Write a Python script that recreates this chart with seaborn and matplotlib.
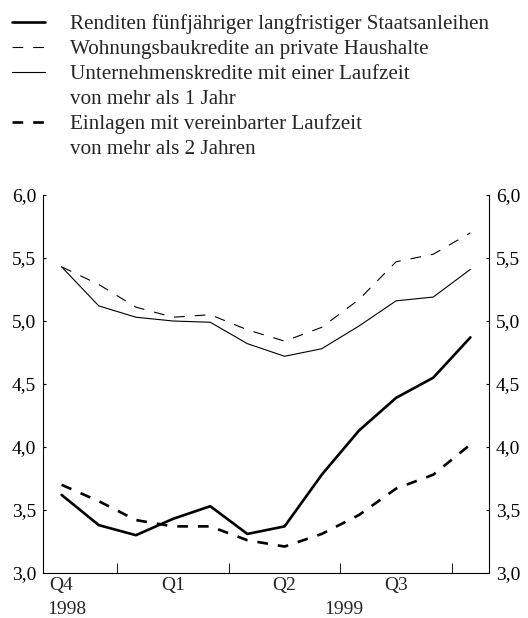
import pandas as pd
import matplotlib.pyplot as plt
import seaborn as sns
from matplotlib.lines import Line2D
from matplotlib.ticker import FuncFormatter

# monthly values, Oct 1998 - Sep 1999 (percent)
months = ["Okt 98", "Nov 98", "Dez 98", "Jan 99", "Feb 99", "Mrz 99",
          "Apr 99", "Mai 99", "Jun 99", "Jul 99", "Aug 99", "Sep 99"]
renditen = [3.62, 3.38, 3.30, 3.43, 3.53, 3.31, 3.37, 3.78, 4.13, 4.39, 4.55, 4.87]
wohnungsbau = [5.43, 5.29, 5.11, 5.03, 5.05, 4.93, 4.84, 4.95, 5.17, 5.47, 5.53, 5.70]
unternehmen = [5.43, 5.12, 5.03, 5.00, 4.99, 4.82, 4.72, 4.78, 4.96, 5.16, 5.19, 5.41]
einlagen = [3.70, 3.57, 3.42, 3.37, 3.37, 3.26, 3.21, 3.31, 3.46, 3.67, 3.78, 4.02]

quarter_pos = [0, 3, 6, 9]
quarter_labels = ["Q4", "Q1", "Q2", "Q3"]
year_pos = [0.14, 7.58]
year_labels = ["1998", "1999"]

legend_labels = [
    "Renditen fünfjähriger langfristiger Staatsanleihen",
    "Wohnungsbaukredite an private Haushalte",
    "Unternehmenskredite mit einer Laufzeit",
    "von mehr als 1 Jahr",
    "Einlagen mit vereinbarter Laufzeit",
    "von mehr als 2 Jahren",
]

sns.set_style("white")
plt.rcParams["font.family"] = ["Liberation Serif", "DejaVu Serif"]
plt.rcParams["lines.scale_dashes"] = False

df = pd.DataFrame({
    "x": range(len(months)),
    "renditen": renditen,
    "wohnungsbau": wohnungsbau,
    "unternehmen": unternehmen,
    "einlagen": einlagen,
})

dash = (0, (7.7, 7.2))
styles = {
    "renditen": dict(lw=1.9, ls="-"),
    "wohnungsbau": dict(lw=0.8, ls=dash),
    "unternehmen": dict(lw=0.8, ls="-"),
    "einlagen": dict(lw=1.9, ls=dash),
}

fig = plt.figure(figsize=(5.28, 6.18), dpi=100)
ax = fig.add_axes([43 / 528, 1 - 573 / 618, (489 - 43) / 528, (573 - 195) / 618])

for col, st in styles.items():
    sns.lineplot(data=df, x="x", y=col, ax=ax, color="black",
                 linewidth=st["lw"], linestyle=st["ls"])

ax.set_xlim(-0.5, 11.5)
ax.set_ylim(3.0, 6.0)
ax.set_xlabel("")
ax.set_ylabel("")

for s in ["left", "right", "bottom"]:
    ax.spines[s].set_visible(True)
    ax.spines[s].set_linewidth(0.8)
    ax.spines[s].set_color("black")
ax.spines["top"].set_visible(False)

# y axis on both sides, comma decimals
ax.set_yticks([3.0, 3.5, 4.0, 4.5, 5.0, 5.5, 6.0])
ax.yaxis.set_major_formatter(FuncFormatter(lambda v, _: f"{v:.1f}".replace(".", ",")))
ax.tick_params(axis="y", direction="in", left=True, right=True,
               labelleft=True, labelright=True, length=2.5, width=0.8,
               pad=5, labelsize=14, colors="black")

# quarter labels at month centres, month boundaries as minor ticks
ax.set_xticks(quarter_pos)
ax.set_xticklabels(quarter_labels)
ax.set_xticks([i + 0.5 for i in range(len(months) - 1)], minor=True)
ax.tick_params(axis="x", which="major", length=0, pad=3, labelsize=14)
ax.tick_params(axis="x", which="minor", direction="in", length=2.8, width=0.8)

# longer ticks every third month
sec = ax.secondary_xaxis("bottom")
sec.set_xticks([1.5, 4.5, 7.5, 10.5])
sec.set_xticklabels([])
sec.tick_params(direction="in", length=7, width=0.8)
sec.spines["bottom"].set_visible(False)

for xp, yl in zip(year_pos, year_labels):
    ax.text(xp, -0.075, yl, transform=ax.get_xaxis_transform(),
            ha="center", va="top", fontsize=14)

handles = [
    Line2D([], [], color="black", lw=1.9),
    Line2D([], [], color="black", lw=0.8, ls=(0, (7.7, 7.2))),
    Line2D([], [], color="black", lw=0.8),
    Line2D([], [], color="none"),
    Line2D([], [], color="black", lw=1.9, ls=(0, (7.7, 7.2))),
    Line2D([], [], color="none"),
]
fig.legend(handles, legend_labels, loc="upper left",
           bbox_to_anchor=(11.7 / 528, 1 - 14 / 618), frameon=False,
           fontsize=15.2, handlelength=1.56, handletextpad=1.22,
           labelspacing=0.25, borderpad=0, borderaxespad=0)

fig.savefig("out.png", dpi=100)
